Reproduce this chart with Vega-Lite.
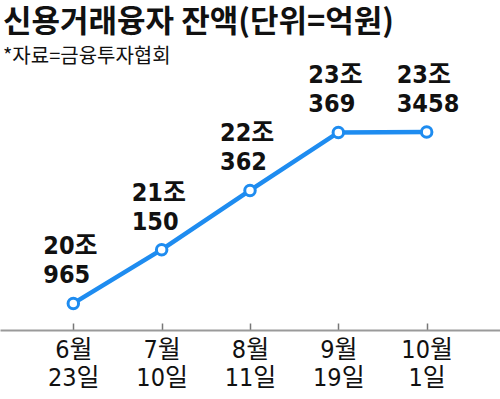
{
  "$schema": "https://vega.github.io/schema/vega-lite/v6.json",
  "width": 500,
  "height": 250,
  "autosize": {"type": "none"},
  "padding": {"top": 80, "left": 0, "right": 0, "bottom": 69},
  "background": "white",
  "config": {
    "view": {"stroke": null},
    "font": "Noto Sans CJK KR"
  },
  "title": {
    "text": "신용거래융자 잔액(단위=억원)",
    "subtitle": "*자료=금융투자협회",
    "anchor": "start",
    "frame": "group",
    "font": "Noto Sans CJK KR",
    "fontSize": 31,
    "fontWeight": "bold",
    "color": "#111111",
    "subtitleFont": "Noto Sans CJK KR",
    "subtitleFontSize": 20,
    "subtitleColor": "#111111",
    "subtitlePadding": 8,
    "offset": -5,
    "dx": 3
  },
  "data": {
    "values": [
      {"date": "6월 23일", "value": 200965, "label": ["20조", "965"]},
      {"date": "7월 10일", "value": 211150, "label": ["21조", "150"]},
      {"date": "8월 11일", "value": 222362, "label": ["22조", "362"]},
      {"date": "9월 19일", "value": 233369, "label": ["23조", "369"]},
      {"date": "10월 1일", "value": 233458, "label": ["23조", "3458"]}
    ]
  },
  "encoding": {
    "x": {
      "field": "date",
      "type": "ordinal",
      "sort": null,
      "scale": {"type": "point", "padding": 0.83},
      "axis": {
        "title": null,
        "labelAngle": 0,
        "labelExpr": "split(datum.label, ' ')",
        "labelFont": "DejaVu Sans Condensed, Noto Sans CJK KR",
        "labelFontSize": 25,
        "labelColor": "#111111",
        "labelLineHeight": 28,
        "labelBaseline": "top",
        "labelPadding": 14,
        "domainColor": "#9a9a9a",
        "domainWidth": 2,
        "tickColor": "#777777",
        "tickWidth": 1.5,
        "tickSize": -7,
        "grid": false
      }
    },
    "y": {
      "field": "value",
      "type": "quantitative",
      "scale": {"domain": [195924, 243300], "zero": false, "nice": false},
      "axis": null
    }
  },
  "layer": [
    {
      "mark": {"type": "line", "color": "#1e8cf0", "strokeWidth": 4.5}
    },
    {
      "mark": {"type": "circle", "fill": "white", "stroke": "#1e8cf0", "strokeWidth": 3, "size": 110, "opacity": 1, "fillOpacity": 1}
    },
    {
      "mark": {
        "type": "text",
        "align": "left",
        "baseline": "bottom",
        "dx": -30,
        "dy": -44,
        "font": "DejaVu Sans Condensed, Noto Sans CJK KR",
        "fontSize": 25,
        "fontWeight": "bold",
        "lineHeight": 29,
        "color": "#111111"
      },
      "encoding": {"text": {"field": "label"}}
    }
  ]
}
